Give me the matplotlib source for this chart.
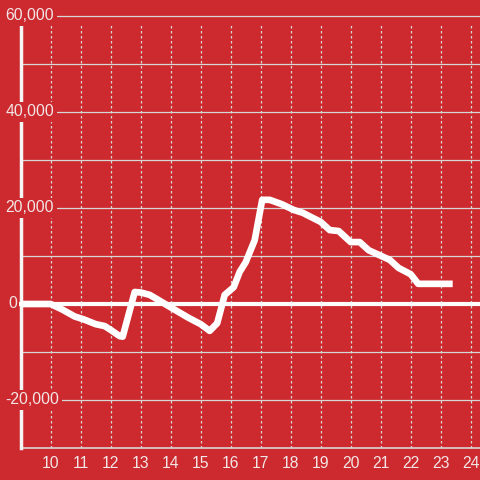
import matplotlib
matplotlib.use("Agg")
import matplotlib.pyplot as plt

# values
hours = [9.0, 10.0, 10.4, 10.8, 11.1, 11.5, 11.8, 12.0, 12.3, 12.4, 12.8, 13.0,
         13.3, 13.6, 14.0, 14.3, 14.6, 15.0, 15.3, 15.55, 15.8, 16.1, 16.3, 16.5,
         16.8, 17.05, 17.3, 17.7, 18.1, 18.4, 19.0, 19.3, 19.6, 20.0, 20.3, 20.6,
         21.3, 21.6, 22.0, 22.25, 23.4]
values = [0, 0, -1200, -2600, -3200, -4200, -4600, -5400, -6700, -6800, 2500, 2400,
          1900, 800, -700, -1800, -2900, -4200, -5600, -4000, 1900, 3500, 6700, 8700,
          13300, 21700, 21700, 20800, 19600, 19000, 17100, 15400, 15200, 12900, 12900,
          11200, 9200, 7500, 6200, 4200, 4200]
x_ticks = list(range(10, 25))
y_labels = [-20000, 0, 20000, 40000, 60000]
y_grid = [-20000, -10000, 10000, 20000, 30000, 40000, 50000, 60000]

bg = "#cc2a2f"
txt = "#f3e6e6"
grid = "#d6d6d6"

fig = plt.figure(figsize=(4.8, 4.8), dpi=100, facecolor=bg)
ax = fig.add_axes([0, 0, 1, 1], facecolor=bg)
x0, x1 = 8.31, 24.31
ax.set_xlim(x0, x1)
ax.set_ylim(-36667, 63333)
ax.axis("off")

for y in y_grid:
    ax.plot([9, x1], [y, y], color=grid, lw=0.9, zorder=1)
ax.plot([9, x1], [-30000, -30000], color=grid, lw=1.2, zorder=1)
for x in x_ticks:
    ax.plot([x, x], [-30000, 58500], color=grid, lw=0.9, ls=(0, (2, 2)), zorder=1)
    ax.text(x, -33300, str(x), color=txt, fontsize=11.3, ha="center", va="center",
            family="Liberation Sans")

ax.plot([9, 9], [-30000, 58000], color="#f5f5f5", lw=2.5, zorder=2)
ax.plot([9, x1], [0, 0], color="white", lw=3, zorder=2)

for y in y_labels:
    lab = "{:,}".format(y)
    ax.text(8.5 if y != 0 else 8.58, y, lab, color=txt, fontsize=11.3, ha="left",
            va="center", family="Liberation Sans", zorder=3,
            bbox=dict(boxstyle="square,pad=0.15", fc=bg, ec="none"))

ax.plot(hours, values, color="white", lw=4.8, solid_capstyle="butt",
        solid_joinstyle="round", zorder=4)

fig.savefig("out.png", dpi=100, facecolor=bg)
